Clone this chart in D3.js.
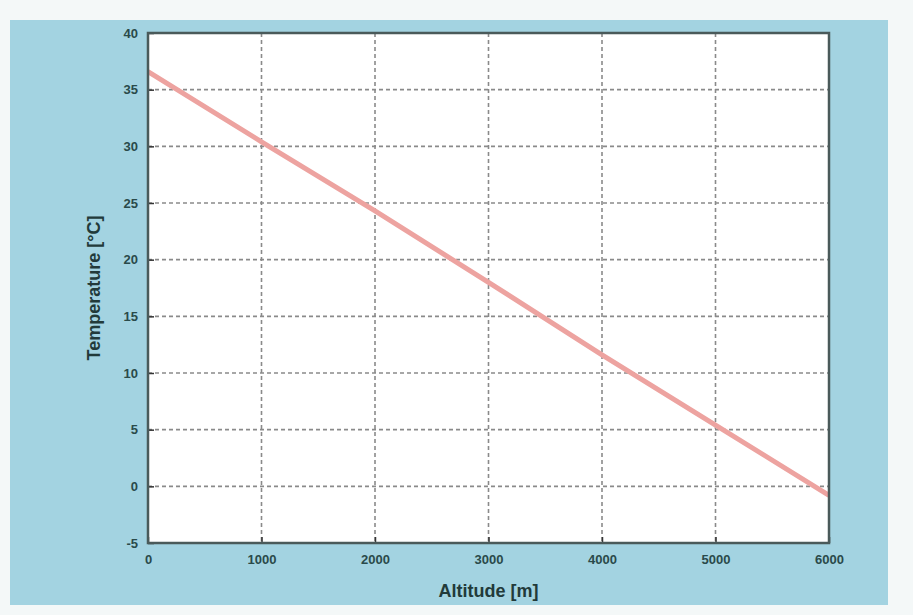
<!DOCTYPE html>
<html lang="en">
<head>
<meta charset="utf-8">
<script src="https://d3js.org/d3.v7.min.js"></script>
<style>
  body { margin: 0; background: #f4f8f8; }
  text { font-family: "Liberation Sans", Arial, sans-serif; }
</style>
</head>
<body>
<div id="chart"></div>
<script>
// altitude vs temperature
const altitude = [0, 1000, 2000, 3000, 4000, 5000, 6000];
const temperature = [36.6, 30.4, 24.3, 18.0, 11.6, 5.4, -0.8];
const xTicks = [0, 1000, 2000, 3000, 4000, 5000, 6000];
const yTicks = [-5, 0, 5, 10, 15, 20, 25, 30, 35, 40];

const W = 913, H = 615;
const margin = {top: 33, right: 84, bottom: 72, left: 148};
const width = W - margin.left - margin.right,
      height = H - margin.top - margin.bottom;

const svg = d3.select("#chart")
  .append("svg")
    .attr("width", W)
    .attr("height", H);

// figure background
svg.append("rect")
  .attr("x", 10).attr("y", 20)
  .attr("width", 878).attr("height", 585)
  .attr("fill", "#a3d3e1");

const g = svg.append("g")
  .attr("transform", `translate(${margin.left},${margin.top})`);

g.append("rect")
  .attr("width", width).attr("height", height)
  .attr("fill", "#fff");

const x = d3.scaleLinear().domain([0, 6000]).range([0, width]);
const y = d3.scaleLinear().domain([-5, 40]).range([height, 0]);

// grid
g.append("g")
  .selectAll("line.vg")
  .data(xTicks.slice(1, -1))
  .join("line")
    .attr("x1", d => x(d)).attr("x2", d => x(d))
    .attr("y1", 0).attr("y2", height)
    .attr("stroke", "#8a8a8a")
    .attr("stroke-width", 1.6)
    .attr("stroke-dasharray", "4,3");

g.append("g")
  .selectAll("line.hg")
  .data(yTicks.slice(1, -1))
  .join("line")
    .attr("x1", 0).attr("x2", width)
    .attr("y1", d => y(d)).attr("y2", d => y(d))
    .attr("stroke", "#8a8a8a")
    .attr("stroke-width", 1.6)
    .attr("stroke-dasharray", "4,3");

// the line
g.append("path")
  .datum(altitude.map((a, i) => [a, temperature[i]]))
  .attr("d", d3.line().x(d => x(d[0])).y(d => y(d[1])))
  .attr("fill", "none")
  .attr("stroke", "#eda3a0")
  .attr("stroke-width", 5);

// axes
const fmt = d => String(d);
const xAxis = g.append("g")
  .attr("transform", `translate(0,${height})`)
  .call(d3.axisBottom(x).tickValues(xTicks).tickFormat(fmt).tickSizeInner(-6).tickSizeOuter(0).tickPadding(12));
const yAxis = g.append("g")
  .call(d3.axisLeft(y).tickValues(yTicks).tickFormat(fmt).tickSizeInner(-6).tickSizeOuter(0).tickPadding(10));
[xAxis, yAxis].forEach(a => {
  a.selectAll("text")
    .attr("fill", "#2a4a4a")
    .style("font-size", "13px")
    .style("font-weight", "bold");
  a.selectAll("line").attr("stroke", "#333").attr("stroke-width", 1.5);
  a.select(".domain").remove();
});

// box
g.append("rect")
  .attr("width", width).attr("height", height)
  .attr("fill", "none")
  .attr("stroke", "#4a5a5a")
  .attr("stroke-width", 2.5);

// labels
svg.append("text")
  .attr("x", margin.left + width / 2)
  .attr("y", H - 18)
  .attr("text-anchor", "middle")
  .attr("fill", "#223a3a")
  .style("font-size", "18px")
  .style("font-weight", "bold")
  .text("Altitude [m]");

svg.append("text")
  .attr("transform", `translate(100,${margin.top + height / 2}) rotate(-90)`)
  .attr("text-anchor", "middle")
  .attr("fill", "#223a3a")
  .style("font-size", "18px")
  .style("font-weight", "bold")
  .text("Temperature [°C]");
</script>
</body>
</html>
